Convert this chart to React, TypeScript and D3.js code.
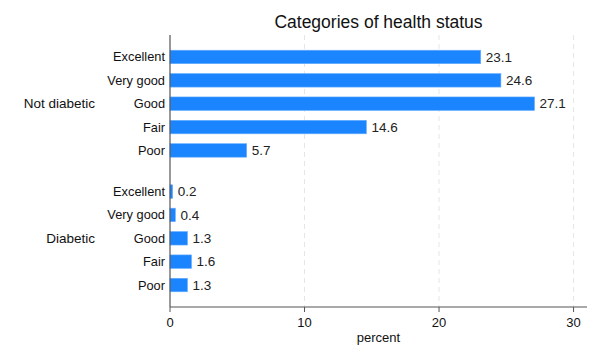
import React from "react";
import * as d3 from "d3";

const groups = ["Not diabetic", "Diabetic"];
const categories = ["Excellent", "Very good", "Good", "Fair", "Poor"];
const notDiabetic = [23.1, 24.6, 27.1, 14.6, 5.7];
const diabetic = [0.2, 0.4, 1.3, 1.6, 1.3];
const xTicks = [0, 10, 20, 30];
const title = "Categories of health status";
const xTitle = "percent";

const W = 600;
const H = 360;
const FONT = "'Liberation Sans', Arial, Helvetica, sans-serif";
const BAR = "#1a85ff";

export default function App() {
  const plotLeft = 170;
  const plotRight = 587;
  const plotTop = 35;
  const plotBottom = 307;

  const x = d3.scaleLinear().domain([0, 31]).range([plotLeft, plotRight]);
  const gapExtra = 0.76;
  const slotMin = -0.94;
  const slotMax = 9.76 + 0.94;
  const y = d3.scaleLinear().domain([slotMin, slotMax]).range([plotTop, plotBottom]);
  const barH = 13.5;

  const series = [notDiabetic, diabetic];
  const rows: { g: number; c: number; v: number; pos: number }[] = [];
  series.forEach((vals, g) => {
    vals.forEach((v, c) => {
      rows.push({ g, c, v, pos: g * (categories.length + gapExtra) + c });
    });
  });

  return (
    <svg width={W} height={H} style={{ position: "absolute", left: 0, top: 0, background: "#fff" }} fontFamily={FONT}>
      <rect x={0} y={0} width={W} height={H} fill="#fff" />
      {xTicks.filter((t) => t > 0).map((t) => (
        <line key={"g" + t} x1={x(t)} x2={x(t)} y1={plotTop} y2={plotBottom} stroke="#e6e6e6" strokeWidth={1} strokeDasharray="5,4" />
      ))}
      {rows.map((r, i) => (
        <g key={i}>
          <rect x={x(0)} y={y(r.pos) - barH / 2} width={x(r.v) - x(0)} height={barH} fill={BAR} stroke="#6aaeff" strokeWidth={0.6} />
          <text x={x(r.v) + 5} y={y(r.pos)} dy="0.35em" fontSize={13.5} fill="#222">{r.v.toFixed(1)}</text>
          <text x={165} y={y(r.pos)} dy="0.35em" fontSize={12.8} textAnchor="end" fill="#111">{categories[r.c]}</text>
        </g>
      ))}
      {groups.map((gname, g) => (
        <text key={gname} x={95} y={y(g * (categories.length + gapExtra) + 2)} dy="0.35em" fontSize={13.5} textAnchor="end" fill="#111">{gname}</text>
      ))}
      <line x1={plotLeft} x2={plotLeft} y1={plotTop} y2={plotBottom} stroke="#555" strokeWidth={1.2} />
      <line x1={plotLeft} x2={plotRight} y1={plotBottom} y2={plotBottom} stroke="#555" strokeWidth={1.2} />
      {xTicks.map((t) => (
        <g key={"t" + t}>
          <line x1={x(t)} x2={x(t)} y1={plotBottom} y2={plotBottom + 5} stroke="#555" strokeWidth={1} />
          <text x={x(t)} y={plotBottom + 20} fontSize={13} textAnchor="middle" fill="#111">{t}</text>
        </g>
      ))}
      <text x={(plotLeft + plotRight) / 2} y={342} fontSize={13} textAnchor="middle" fill="#111">{xTitle}</text>
      <text x={(plotLeft + plotRight) / 2} y={28} fontSize={17.5} textAnchor="middle" fill="#111">{title}</text>
    </svg>
  );
}
